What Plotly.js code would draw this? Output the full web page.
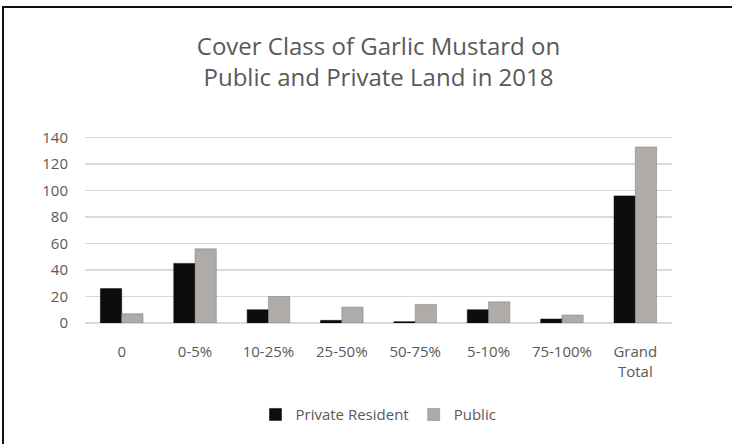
<!DOCTYPE html>
<html>
<head>
<meta charset="utf-8">
<script src="https://cdn.plot.ly/plotly-3.0.1.min.js"></script>
<style>
  html, body { margin: 0; padding: 0; background: #fff; }
  #wrap { position: relative; width: 732px; height: 444px; overflow: hidden; }
  #chart { width: 732px; height: 444px; }
  #frame { position: absolute; left: 2px; top: 6px; right: -10px; bottom: -10px;
           border-top: 2px solid #111; border-left: 2px solid #111; pointer-events: none; }
</style>
</head>
<body>
<div id="wrap">
  <div id="chart"></div>
  <div id="frame"></div>
</div>
<script>
const categories = ["0", "0-5%", "10-25%", "25-50%", "50-75%", "5-10%", "75-100%", "Grand<br>Total"];
const privateResident = [26, 45, 10, 2, 1, 10, 3, 96];
const publicLand = [7, 56, 20, 12, 14, 16, 6, 133];
const yTicks = [0, 20, 40, 60, 80, 100, 120, 140];

const font = "'Open Sans', 'Noto Sans', sans-serif";
const textGray = "#595959";

const traces = [
  { type: "bar", name: "Private Resident", x: categories, y: privateResident,
    marker: { color: "#0d0d0d", line: { color: "#000", width: 0.5 } } },
  { type: "bar", name: "Public", x: categories, y: publicLand,
    marker: { color: "#aeaba9", line: { color: "#7a7a7a", width: 0.5 } } }
];

const layout = {
  width: 732, height: 444,
  margin: { l: 85, r: 60, t: 135, b: 121 },
  paper_bgcolor: "#fff", plot_bgcolor: "#fff",
  font: { family: font, color: textGray, size: 14 },
  title: { text: "Cover Class of Garlic Mustard on<br>Public and Private Land in 2018",
           x: 0.5, xanchor: "center", xref: "paper", y: 0.876, yanchor: "middle", yref: "container",
           font: { family: font, size: 24, color: textGray } },
  barmode: "group", bargap: 0.42, bargroupgap: 0,
  xaxis: { type: "category", showgrid: false, zeroline: false, showline: false,
           ticks: "", tickfont: { size: 15, color: textGray }, ticklabelstandoff: 18 },
  yaxis: { range: [0, 142], tickvals: yTicks, ticktext: yTicks.map(String),
           showgrid: true, gridcolor: "#d9d9d9", gridwidth: 1.5, zeroline: true,
           zerolinecolor: "#d9d9d9", zerolinewidth: 1.5, showline: false, ticks: "",
           tickfont: { size: 15, color: textGray }, ticklabelstandoff: 16 },
  showlegend: true,
  legend: { orientation: "h", x: 0.5, xanchor: "center", y: -0.4, yanchor: "top",
            font: { size: 15, color: textGray }, itemwidth: 20 }
};

Plotly.newPlot("chart", traces, layout, { displayModeBar: false, staticPlot: true });
</script>
</body>
</html>
